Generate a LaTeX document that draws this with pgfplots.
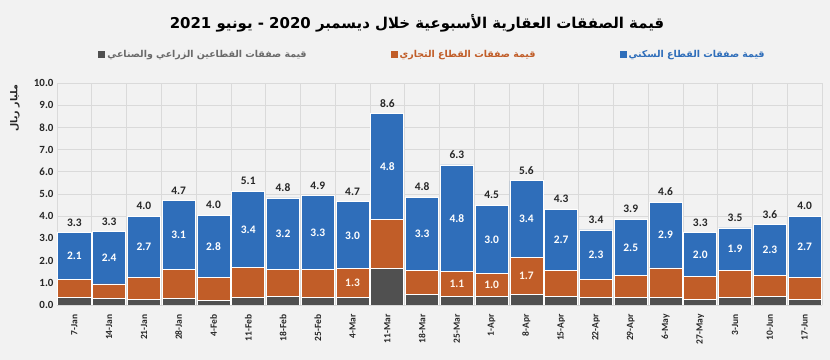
\documentclass[border=0pt]{standalone}
\usepackage{pgfplots}
\usepackage{pgfplotstable}
\pgfplotsset{compat=1.18}
\usepackage{fontspec}
\setmainfont{Carlito}
\newfontfamily\arabicfont[Script=Arabic]{DejaVu Sans}
\TeXXeTstate=1
\definecolor{bgc}{HTML}{F2F2F2}
\definecolor{gridc}{HTML}{DADADA}
\definecolor{bluec}{HTML}{2F6EBA}
\definecolor{orangec}{HTML}{C15D28}
\definecolor{grayc}{HTML}{505050}
\definecolor{txtc}{HTML}{262626}

\pgfplotstableread{
x lab g o b tot blab
0 7-Jan 0.35 0.80 2.10 3.3 2.1
1 14-Jan 0.30 0.65 2.35 3.3 2.4
2 21-Jan 0.25 1.00 2.75 4.0 2.7
3 28-Jan 0.30 1.30 3.10 4.7 3.1
4 4-Feb 0.22 1.02 2.80 4.0 2.8
5 11-Feb 0.35 1.33 3.45 5.1 3.4
6 18-Feb 0.40 1.20 3.22 4.8 3.2
7 25-Feb 0.35 1.25 3.32 4.9 3.3
8 4-Mar 0.33 1.30 3.02 4.7 3.0
9 11-Mar 1.66 2.21 4.75 8.6 4.8
10 18-Mar 0.46 1.09 3.29 4.8 3.3
11 25-Mar 0.39 1.12 4.80 6.3 4.8
12 1-Apr 0.39 1.04 3.05 4.5 3.0
13 8-Apr 0.46 1.69 3.45 5.6 3.4
14 15-Apr 0.39 1.18 2.73 4.3 2.7
15 22-Apr 0.33 0.81 2.24 3.4 2.3
16 29-Apr 0.33 1.00 2.53 3.9 2.5
17 6-May 0.33 1.34 2.95 4.6 2.9
18 27-May 0.25 1.02 1.99 3.3 2.0
19 3-Jun 0.33 1.24 1.90 3.5 1.9
20 10-Jun 0.39 0.96 2.27 3.6 2.3
21 17-Jun 0.25 0.99 2.76 4.0 2.7
}\data

\pgfplotstableread{
x g o olab
8 0.33 1.30 1.3
11 0.39 1.12 1.1
12 0.39 1.04 1.0
13 0.46 1.69 1.7
}\odata

\begin{document}
\begin{tikzpicture}
\fill[bgc] (0,0) rectangle (830bp,360bp);
\pgfplotsset{common/.style={
  at={(57bp,55bp)}, anchor=south west,
  scale only axis, width=765bp, height=222bp,
  xmin=-0.5, xmax=21.5, ymin=0, ymax=10,
}}
\begin{axis}[common,
  ybar stacked, bar width=0.95,
  xtick={0,...,21},
  xticklabels from table={\data}{lab},
  x tick label style={rotate=90, anchor=east, font=\bfseries\fontsize{9.5}{10}\selectfont, text=txtc, xshift=-6bp},
  ytick={0,1,...,10},
  /pgf/number format/assume math mode=true,
  yticklabel style={/pgf/number format/fixed, /pgf/number format/fixed zerofill, /pgf/number format/precision=1, font=\bfseries\fontsize{11}{12}\selectfont, text=txtc},
  minor xtick={-0.5,0.5,...,21.5},
  xminorgrids, ymajorgrids,
  grid style={gridc, line width=0.7pt},
  minor grid style={gridc, line width=0.7pt},
  axis line style={draw=none},
  tick style={draw=none},
  legend columns=3,
  legend style={at={(0.05,1.128)}, anchor=west, draw=none, fill=none,
    font=\arabicfont\bfseries\fontsize{9.5}{11}\selectfont,
    /tikz/every even column/.append style={column sep=82bp}},
  legend image code/.code={\fill[#1,draw=none] (0bp,-3.5bp) rectangle (7bp,3.5bp);},
]
\addplot[fill=grayc, draw=white, line width=0.8pt] table[x=x, y=g] {\data};
\addlegendentry{\textcolor{grayc!85!white}{\beginR قيمة صفقات القطاعين الزراعي والصناعي\endR}}
\addplot[fill=orangec, draw=white, line width=0.8pt] table[x=x, y=o] {\data};
\addlegendentry{\textcolor{orangec}{\beginR قيمة صفقات القطاع التجاري\endR}}
\addplot[fill=bluec, draw=white, line width=0.8pt] table[x=x, y=b] {\data};
\addlegendentry{\textcolor{bluec}{\beginR قيمة صفقات القطاع السكني\endR}}
\end{axis}
\begin{axis}[common, hide axis]
\addplot[draw=none, nodes near coords, point meta=explicit symbolic,
  nodes near coords style={anchor=center, text=white, font=\bfseries\fontsize{11.5}{12}\selectfont}]
  table[x=x, y expr=\thisrow{g}+\thisrow{o}+0.5*\thisrow{b}, meta=blab] {\data};
\addplot[draw=none, nodes near coords, point meta=explicit symbolic,
  nodes near coords style={anchor=south, yshift=3bp, text=txtc, font=\bfseries\fontsize{11.5}{12}\selectfont}]
  table[x=x, y expr=\thisrow{g}+\thisrow{o}+\thisrow{b}, meta=tot] {\data};
\addplot[draw=none, nodes near coords, point meta=explicit symbolic,
  nodes near coords style={anchor=center, text=white!92!orange, font=\bfseries\fontsize{11.5}{12}\selectfont}]
  table[x=x, y expr=\thisrow{g}+0.5*\thisrow{o}, meta=olab] {\odata};
\end{axis}
\node[font=\arabicfont\bfseries\fontsize{15}{18}\selectfont, text=black] at (417bp,337bp)
  {\beginR قيمة الصفقات العقارية الأسبوعية خلال ديسمبر \beginL 2020\endL{} - يونيو \beginL 2021\endL\endR};
\node[rotate=90, font=\arabicfont\bfseries\fontsize{9.5}{10}\selectfont, text=txtc] at (15bp,252bp) {\beginR مليار ريال\endR};
\pgfresetboundingbox
\path[use as bounding box] (0,0) rectangle (830bp,360bp);
\end{tikzpicture}
\end{document}
